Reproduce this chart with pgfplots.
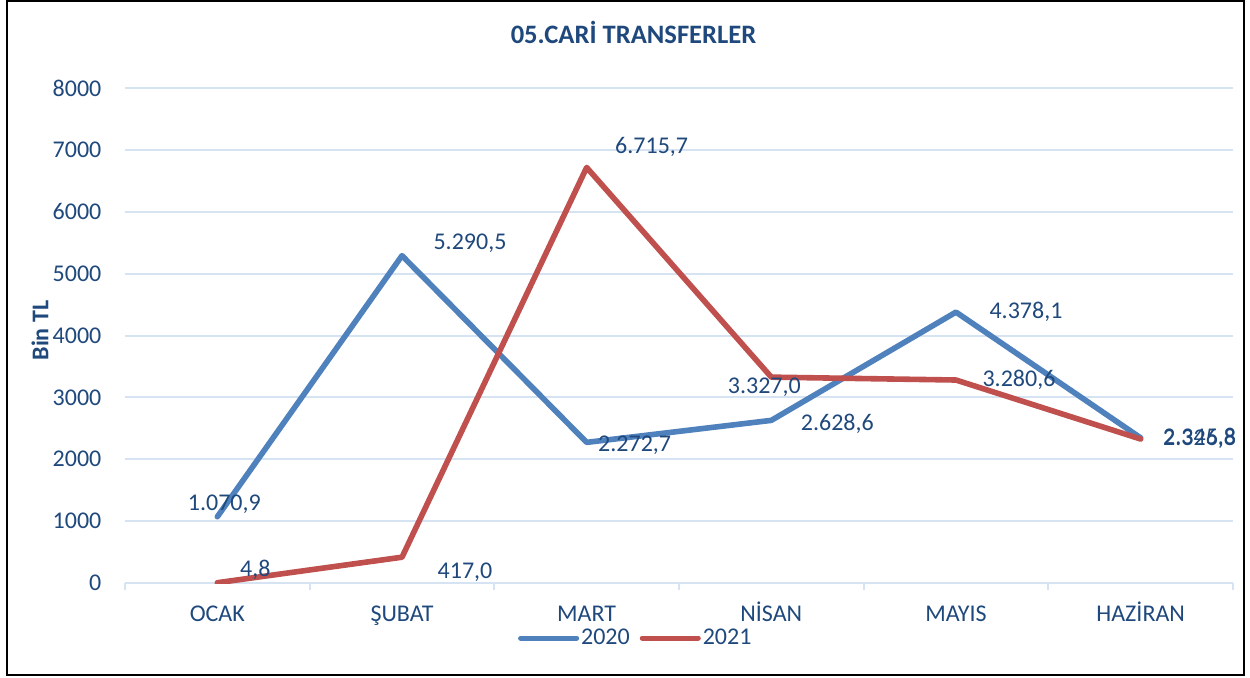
\documentclass[border=0pt]{standalone}
\usepackage{pgfplots}
\pgfplotsset{compat=1.18}
\usepackage{pgfplotstable}
\usepackage{fontspec}
\setmainfont{Carlito}

\definecolor{txtblue}{HTML}{1F497D}
\definecolor{s2020}{HTML}{4F81BD}
\definecolor{s2021}{HTML}{C0504D}
\definecolor{gridc}{HTML}{D6E3F3}

% x = month index, dx/dy = label offset in pt
\pgfplotstableread{
x y lab dx dy
0 1070.9 1.070,9 3.5 6
1 5290.5 5.290,5 34 6
2 2272.7 2.272,7 24 -1.5
3 2628.6 2.628,6 33 -1.5
4 4378.1 4.378,1 35 0
5 2345.8 2.345,8 29.5 0
}\tabA
\pgfplotstableread{
x y lab dx dy
0 4.8 4,8 19 6.5
1 417.0 417,0 31.5 -7.5
2 6715.7 6.715,7 32.5 10.5
3 3327.0 3.327,0 -3.5 -5
4 3280.6 3.280,6 31.5 0
5 2326.8 2.326,8 29.5 0
}\tabB

\begin{document}
\begin{tikzpicture}
\fill[white] (-62.5pt,-47pt) rectangle (562.5pt,291.5pt);
\useasboundingbox (-62.5pt,-47pt) rectangle (562.5pt,291.5pt);
\draw[line width=1pt] (-59pt,-46pt) rectangle (559.5pt,291pt);
\begin{axis}[
    at={(0,0)}, anchor=south west,
    scale only axis,
    width=554pt, height=247.5pt,
    xmin=-0.5, xmax=5.5,
    ymin=0, ymax=8000,
    ytick={0,1000,...,8000},
    xtick={0,...,5},
    xticklabels={OCAK,ŞUBAT,MART,NİSAN,MAYIS,HAZİRAN},
    minor xtick={-0.5,0.5,1.5,2.5,3.5,4.5,5.5},
    axis line style={draw=none},
    ymajorgrids=true,
    grid style={gridc, line width=1pt},
    major tick style={draw=none},
    minor x tick style={gridc, line width=1pt},
    minor tick length=3.5pt,
    tick align=outside,
    xtick pos=bottom,
    ytick pos=left,
    tick label style={font=\fontsize{12}{14}\selectfont, text=txtblue},
    /pgf/number format/assume math mode=true,
    /pgf/number format/set thousands separator={},
    yticklabel style={xshift=-4pt},
    xticklabel style={anchor=north, text height=8pt, text depth=0pt, inner sep=1pt, yshift=-6pt},
    ylabel={\textbf{Bin TL}},
    ylabel style={font=\fontsize{12}{14}\selectfont, text=txtblue, at={(axis description cs:0,0.51)}, anchor=center, yshift=42.5pt},
    title={\textbf{05.CARİ TRANSFERLER}},
    title style={font=\fontsize{13.3}{16}\selectfont, text=txtblue, at={(axis description cs:0.459,1)}, anchor=center, yshift=22pt},
    legend style={draw=none, fill=none, at={(axis description cs:0.461,0)}, anchor=center, yshift=-27.5pt,
        font=\fontsize{12}{14}\selectfont, text=txtblue, legend columns=2, inner sep=0pt,
        nodes={inner sep=1pt},
        /tikz/every even column/.append style={column sep=4pt}},
    legend image code/.code={\draw[#1, line width=2.5pt, line cap=round] (0pt,0pt) -- (28pt,0pt);},
    nodes near coords,
    point meta=explicit symbolic,
    every node near coord/.append style={font=\fontsize{12}{14}\selectfont, text=txtblue, anchor=center, xshift=\dx pt, yshift=\dy pt},
    visualization depends on={\thisrow{dx} \as \dx},
    visualization depends on={\thisrow{dy} \as \dy},
]
\addplot[s2020, line width=2.8pt, line join=round, line cap=round] table[x=x, y=y, meta=lab] {\tabA};
\addlegendentry{2020}
\addplot[s2021, line width=2.8pt, line join=round, line cap=round] table[x=x, y=y, meta=lab] {\tabB};
\addlegendentry{2021}
\end{axis}
\end{tikzpicture}
\end{document}
